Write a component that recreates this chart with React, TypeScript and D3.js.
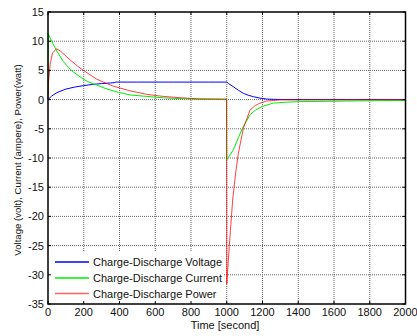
import React from "react";
import * as d3 from "d3";

const xTicks = [0, 200, 400, 600, 800, 1000, 1200, 1400, 1600, 1800, 2000];
const yTicks = [15, 10, 5, 0, -5, -10, -15, -20, -25, -30, -35];

const voltageT = [0, 20, 50, 100, 150, 200, 250, 300, 350, 370, 380, 500, 700, 900, 1000, 1010, 1037, 1065, 1093, 1120, 1149, 1186, 1223, 1260, 1300, 1400, 2000];
const voltageV = [0, 0.6, 1.2, 1.8, 2.15, 2.4, 2.6, 2.75, 2.85, 2.9, 3.0, 3.0, 3.0, 3.0, 3.0, 2.75, 2.2, 1.6, 1.07, 0.75, 0.5, 0.25, 0.1, 0.05, 0.02, 0, 0];

const currentT = [0, 1, 20, 50, 86, 130, 179, 220, 272, 330, 394, 459, 550, 646, 750, 850, 999, 1000, 1037, 1065, 1093, 1130, 1160, 1196, 1260, 1330, 1410, 1550, 1671, 1800, 2000];
const currentV = [0, 11.3, 10, 8.3, 6.5, 5, 3.9, 3.1, 2.5, 1.8, 1.25, 0.8, 0.55, 0.3, 0.15, 0.05, 0, -10.3, -8.6, -6.5, -4.6, -2.6, -1.8, -1.2, -0.6, -0.45, -0.35, -0.3, -0.25, -0.2, -0.15];

const powerT = [0, 3, 12, 25, 48, 70, 123, 179, 272, 365, 459, 552, 644, 750, 832, 999, 1000, 1014, 1033, 1050, 1065, 1093, 1130, 1160, 1186, 1223, 1300, 2000];
const powerV = [0, 3, 6, 8, 8.7, 8.3, 6.8, 5.4, 3.5, 2.3, 1.5, 0.9, 0.55, 0.3, 0.15, 0.1, -31.6, -25.2, -17.2, -12.5, -9.2, -4.9, -1.8, -1.0, -0.6, -0.25, -0.05, 0];

const seriesNames = ["Charge-Discharge Voltage", "Charge-Discharge Current", "Charge-Discharge Power"];
const seriesColors = ["#0000ff", "#00ee00", "#ff0000"];

export default function App() {
  const W = 417, H = 336;
  const L = 48, R = 405.5, T = 12, B = 304;
  const x = d3.scaleLinear().domain([0, 2000]).range([L, R]);
  const y = d3.scaleLinear().domain([-35, 15]).range([B, T]);
  const line = d3.line<[number, number]>().x(d => x(d[0])).y(d => y(d[1]));
  const mk = (t: number[], v: number[]) => t.map((ti, i) => [ti, v[i]] as [number, number]);
  const series = [mk(voltageT, voltageV), mk(currentT, currentV), mk(powerT, powerV)];
  const font = "Liberation Sans, Arial, sans-serif";
  const legY = [262, 278, 293.5];

  return (
    <div style={{ position: "absolute", left: 0, top: 0 }}>
      <svg width={W} height={H} style={{ display: "block", background: "#fff" }}>
        <rect x={L} y={T} width={R - L} height={B - T} fill="#fff" />
        {xTicks.slice(1, -1).map(t => (
          <line key={"gx" + t} x1={x(t)} x2={x(t)} y1={T} y2={B} stroke="#666" strokeWidth={1} strokeDasharray="1,1" />
        ))}
        {yTicks.slice(1, -1).map(t => (
          <line key={"gy" + t} x1={L} x2={R} y1={y(t)} y2={y(t)} stroke="#666" strokeWidth={1} strokeDasharray="1,1" />
        ))}
        {series.map((s, i) => (
          <path key={"s" + i} d={line(s) || ""} fill="none" stroke={seriesColors[i]} strokeWidth={1} opacity={i === 2 ? 0.75 : 1} />
        ))}
        <rect x={L + 0.5} y={252} width={175} height={B - 252 - 0.5} fill="#fff" />
        {seriesNames.map((n, i) => (
          <g key={"l" + i}>
            <line x1={55} x2={89} y1={legY[i]} y2={legY[i]} stroke={seriesColors[i]} strokeWidth={1.4} opacity={i === 2 ? 0.6 : 1} />
            <text x={93} y={legY[i] + 4} fontFamily={font} fontSize={11} fill="#111">{n}</text>
          </g>
        ))}
        {xTicks.map(t => (
          <g key={"tx" + t}>
            <line x1={x(t)} x2={x(t)} y1={B} y2={B - 3} stroke="#000" />
            <line x1={x(t)} x2={x(t)} y1={T} y2={T + 3} stroke="#000" />
            <text x={x(t)} y={316} textAnchor="middle" fontFamily={font} fontSize={11} fill="#111">{t}</text>
          </g>
        ))}
        {yTicks.map(t => (
          <g key={"ty" + t}>
            <line x1={L} x2={L + 3} y1={y(t)} y2={y(t)} stroke="#000" />
            <line x1={R} x2={R - 3} y1={y(t)} y2={y(t)} stroke="#000" />
            <text x={44} y={y(t) + 4} textAnchor="end" fontFamily={font} fontSize={11} fill="#111">{t}</text>
          </g>
        ))}
        <rect x={L} y={T} width={R - L} height={B - T} fill="none" stroke="#000" strokeWidth={1.5} />
        <text x={225} y={329} textAnchor="middle" fontFamily={font} fontSize={11} fill="#111">Time [second]</text>
        <text transform={`translate(21,160) rotate(-90)`} textAnchor="middle" fontFamily={font} fontSize={9.6} fill="#111">Voltage (volt), Current (ampere), Power(watt)</text>
      </svg>
    </div>
  );
}
